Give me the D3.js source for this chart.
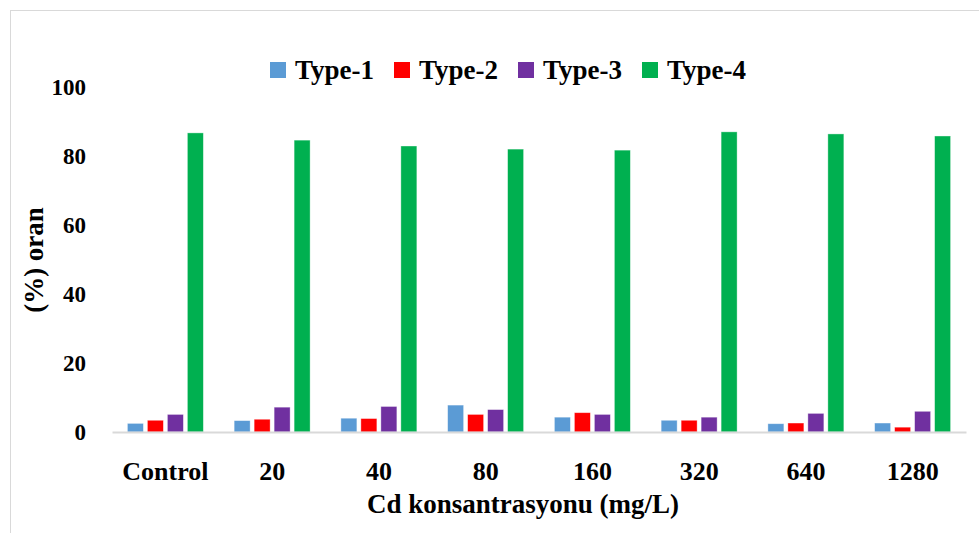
<!DOCTYPE html>
<html><head><meta charset="utf-8">
<script src="https://cdn.jsdelivr.net/npm/d3@7"></script>
<style>body{margin:0;background:#fff}svg{display:block}</style>
</head><body>
<script>
const categories = ["Control","20","40","80","160","320","640","1280"];
const seriesNames = ["Type-1","Type-2","Type-3","Type-4"];
const type1 = [2.5, 3.3, 4.0, 7.8, 4.3, 3.4, 2.4, 2.6];
const type2 = [3.4, 3.7, 3.9, 5.1, 5.6, 3.4, 2.6, 1.4];
const type3 = [5.1, 7.2, 7.4, 6.5, 5.1, 4.3, 5.4, 6.0];
const type4 = [86.7, 84.6, 82.9, 82.0, 81.7, 87.0, 86.4, 85.8];
const yTicks = [0, 20, 40, 60, 80, 100];
const colors = ["#5b9bd5", "#ff0000", "#7030a0", "#00b050"];
const seriesValues = [type1, type2, type3, type4];

const W = 979, H = 533;
const FONT = "'Liberation Serif', serif";
const svg = d3.select("body").append("svg").attr("width", W).attr("height", H);
svg.append("rect").attr("x", 10.5).attr("y", 10.5).attr("width", 980).attr("height", 530)
  .attr("fill", "#fff").attr("stroke", "#d9d9d9").attr("stroke-width", 1);

const x0 = d3.scaleBand().domain(categories).range([112, 966]).padding(0);
const x1 = d3.scaleBand().domain(seriesNames).range([0, x0.bandwidth()])
  .paddingInner(0.2).paddingOuter(0.77);
const y = d3.scaleLinear().domain([0, 100]).range([432, 87]);

// bars
seriesNames.forEach((s, si) => {
  svg.append("g").selectAll("rect").data(categories).join("rect")
    .attr("x", c => x0(c) + x1(s))
    .attr("y", (c, i) => y(seriesValues[si][i]))
    .attr("width", x1.bandwidth())
    .attr("height", (c, i) => y(0) - y(seriesValues[si][i]))
    .attr("fill", colors[si])
    .attr("stroke", "#ffffff").attr("stroke-opacity", 0.5).attr("stroke-width", 0.75);
});

// x axis baseline
const xAxis = svg.append("g").attr("transform", `translate(0,${y(0)})`)
  .call(d3.axisBottom(x0).tickSize(0).tickPadding(30));
xAxis.select(".domain").attr("stroke", "#d9d9d9").attr("stroke-width", 2);
xAxis.selectAll("text").attr("font-family", FONT).attr("font-weight", "bold")
  .attr("font-size", 26).attr("fill", "#000");

// y axis labels
const yAxis = svg.append("g").attr("transform", `translate(112,0)`)
  .call(d3.axisLeft(y).tickValues(yTicks).tickSize(0).tickPadding(26));
yAxis.select(".domain").remove();
yAxis.selectAll("text").attr("font-family", FONT).attr("font-weight", "bold")
  .attr("font-size", 23).attr("fill", "#000");

// axis titles
svg.append("text").attr("x", 523).attr("y", 513).attr("text-anchor", "middle")
  .attr("font-family", FONT).attr("font-weight", "bold").attr("font-size", 27)
  .text("Cd konsantrasyonu (mg/L)");
svg.append("text").attr("transform", "translate(43,260) rotate(-90)")
  .attr("text-anchor", "middle")
  .attr("font-family", FONT).attr("font-weight", "bold").attr("font-size", 27)
  .text("(%) oran");

// legend
const legendX = [270, 394, 518, 642];
const lg = svg.append("g").selectAll("g").data(seriesNames).join("g")
  .attr("transform", (d, i) => `translate(${legendX[i]},62)`);
lg.append("rect").attr("width", 16).attr("height", 16).attr("fill", (d, i) => colors[i]);
lg.append("text").attr("x", 25).attr("y", 16.5)
  .attr("font-family", FONT).attr("font-weight", "bold").attr("font-size", 27)
  .text(d => d);
</script>
</body></html>
